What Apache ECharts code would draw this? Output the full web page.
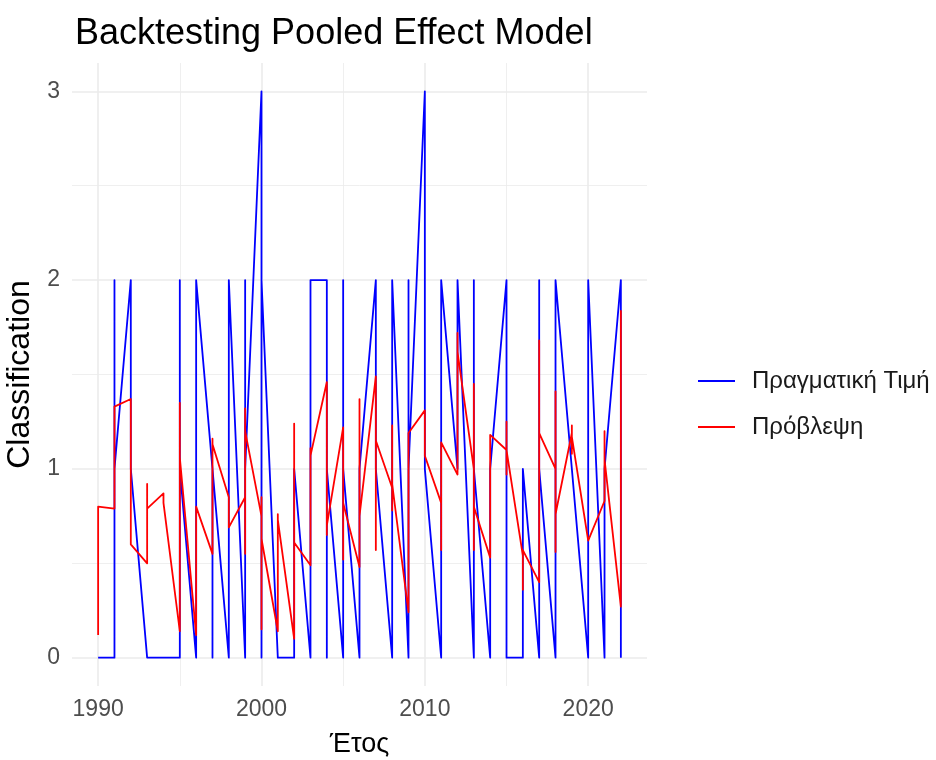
<!DOCTYPE html>
<html>
<head>
<meta charset="utf-8">
<script src="https://cdn.jsdelivr.net/npm/echarts@6/dist/echarts.min.js"></script>
<style>
  html, body { margin: 0; padding: 0; background: #ffffff; }
  #chart { width: 936px; height: 760px; }
</style>
</head>
<body>
<div id="chart"></div>
<script>
// Years on the x axis
const years = [1990,1991,1992,1993,1994,1995,1996,1997,1998,1999,2000,2001,2002,2003,2004,2005,2006,2007,2008,2009,2010,2011,2012,2013,2014,2015,2016,2017,2018,2019,2020,2021,2022];

// Actual classification, observations within each year (in drawing order)
const actual = [
  [0,0],[0,2,1],[2,1],[0],[0],[0,2,1],[0,2],[1,0,1],[0,2],[0,2,1],
  [3,0,2],[0],[0,1],[0,2],[2,0,1],[0,2,1],[0,1],[2,1],[0,2],[0,2,1],
  [3,1],[0,2],[1,2],[0,2,1],[0,1],[2,0],[0,1],[0,2,1],[0,2],[1,1],
  [0,2],[0,1],[2,0]
];

// Predicted values, observations within each year (in drawing order)
const predicted = [
  [0.12,0.80],[0.79,1.33],[1.37,0.60],[0.50,0.92,0.79],[0.87,0.82],
  [0.14,1.35,1.06],[0.12,0.80],[0.55,1.16,1.13],[0.85,0.69],[0.85,0.55,1.32,1.20],
  [0.75,0.85,0.15,0.63],[0.14,0.76,0.73],[0.10,1.24,0.61],[0.49,1.11,1.07],[1.46,0.65,0.70],
  [1.22,0.52,0.82],[0.48,1.37,0.75],[1.49,0.57,1.15],[0.90,1.23,0.78,0.92],[0.24,1.19],
  [1.31,1.07],[0.82,0.57,1.14],[0.97,1.72,1.62],[1.00,1.45,0.57,0.80],[0.53,1.18],
  [1.10,1.25,0.97,1.10],[0.54,0.36,0.57],[0.40,1.68,1.19],[1.00,1.41,0.56,0.76],[1.19,1.23,1.08,1.17],
  [0.62,0.62],[0.83,1.20,1.05],[0.27,1.84]
];

// Tick labels / gridlines
const xMajor = [1990, 2000, 2010, 2020];
const xMinor = [1995, 2005, 2015];
const yMajor = [0, 1, 2, 3];
const yMinor = [0.5, 1.5, 2.5];

const seriesNames = ['Πραγματική Τιμή', 'Πρόβλεψη'];

function toPoints(vals) {
  const pts = [];
  years.forEach((yr, i) => vals[i].forEach(v => pts.push([yr, v])));
  return pts;
}

const gridColor = '#EBEBEB';
const gridLines = [].concat(
  xMajor.map(v => ({ xAxis: v, lineStyle: { width: 1.6, color: gridColor, type: 'solid' } })),
  xMinor.map(v => ({ xAxis: v, lineStyle: { width: 0.8, color: gridColor, type: 'solid' } })),
  yMajor.map(v => ({ yAxis: v, lineStyle: { width: 1.6, color: gridColor, type: 'solid' } })),
  yMinor.map(v => ({ yAxis: v, lineStyle: { width: 0.8, color: gridColor, type: 'solid' } }))
);

const font = '"Liberation Sans", Arial, Helvetica, sans-serif';

const chart = echarts.init(document.getElementById('chart'), null, { renderer: 'canvas' });
chart.setOption({
  backgroundColor: '#ffffff',
  animation: false,
  textStyle: { fontFamily: font },
  title: {
    text: 'Backtesting Pooled Effect Model',
    left: 70, top: 11,
    textStyle: { fontFamily: font, fontSize: 36, fontWeight: 'normal', color: '#000000' }
  },
  legend: {
    data: seriesNames,
    orient: 'vertical',
    left: 693, top: 364,
    icon: 'rect',
    itemWidth: 37, itemHeight: 2, itemGap: 22,
    textStyle: { fontFamily: font, fontSize: 24, lineHeight: 24, color: '#1a1a1a', padding: [0, 0, 0, 12] }
  },
  grid: { left: 72, top: 63, right: 289, bottom: 74, outerBoundsMode: 'none' },
  xAxis: {
    type: 'value', min: 1988.4, max: 2023.6,
    name: 'Έτος', nameLocation: 'middle', nameGap: 45,
    nameTextStyle: { fontFamily: font, fontSize: 27, color: '#000000' },
    axisLine: { show: false }, axisTick: { show: false }, splitLine: { show: false },
    axisLabel: { customValues: xMajor, formatter: v => String(v), fontFamily: font, fontSize: 23, color: '#4D4D4D', margin: 12 }
  },
  yAxis: {
    type: 'value', min: -0.15, max: 3.15,
    name: 'Classification', nameLocation: 'middle', nameRotate: 90, nameGap: 23,
    nameTextStyle: { fontFamily: font, fontSize: 32, color: '#000000' },
    axisLine: { show: false }, axisTick: { show: false }, splitLine: { show: false },
    axisLabel: { customValues: yMajor, formatter: v => String(v), fontFamily: font, fontSize: 23, color: '#4D4D4D', margin: 12 }
  },
  series: [
    {
      name: seriesNames[0], type: 'line', data: toPoints(actual),
      symbol: 'none', z: 3, silent: true,
      lineStyle: { color: '#0000FF', width: 1.8, join: 'round' },
      itemStyle: { color: '#0000FF' },
      markLine: { silent: true, z: 1, symbol: ['none', 'none'], label: { show: false }, animation: false, data: gridLines }
    },
    {
      name: seriesNames[1], type: 'line', data: toPoints(predicted),
      symbol: 'none', z: 4, silent: true,
      lineStyle: { color: '#FF0000', width: 1.8, join: 'round' },
      itemStyle: { color: '#FF0000' }
    }
  ]
});
</script>
</body>
</html>
